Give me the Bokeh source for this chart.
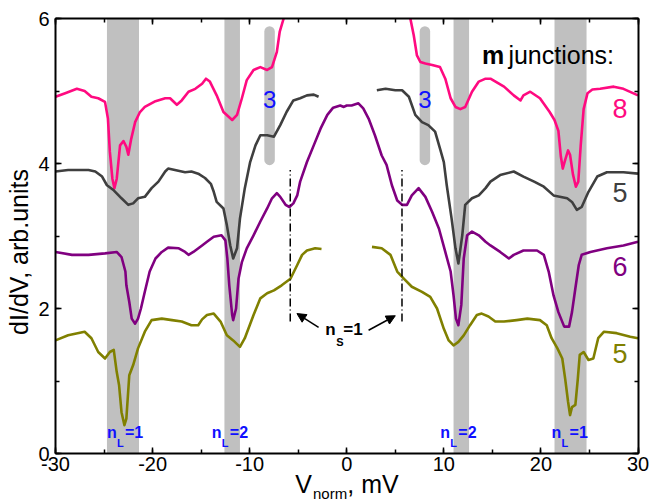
import math
from bokeh.plotting import figure
from bokeh.models import (SingleIntervalTicker, LinearAxis, Arrow, NormalHead,
                          CustomJSTickFormatter, Range1d)
from bokeh.core.properties import value
from bokeh.embed import file_html
from bokeh.resources import INLINE

FONT = "Liberation Sans"

# ---------------- data ----------------
pink_left_x = [-30.0, -29.0, -27.8, -27.0, -26.3, -25.6, -24.9, -24.6, -24.4, -24.14, -23.93, -23.69,
               -23.35, -23.0, -22.7, -22.5, -22.2, -21.8, -21.3, -20.8, -19.7, -18.7, -18.2, -17.5,
               -17.0, -16.3, -15.6, -14.9, -14.5, -14.1, -13.4, -12.7, -11.8, -11.3, -10.8, -10.3,
               -9.6, -8.9, -8.2, -7.7, -7.2, -6.9, -6.5]
pink_left_y = [4.92, 4.97, 5.03, 5.00, 4.92, 4.90, 4.85, 4.62, 4.16, 3.79, 3.66, 3.79,
               4.25, 4.31, 4.23, 4.12, 4.34, 4.57, 4.71, 4.78, 4.86, 4.90, 4.90, 4.81,
               4.87, 4.99, 5.03, 5.10, 5.17, 5.13, 4.94, 4.71, 4.60, 4.67, 4.90, 5.15,
               5.29, 5.33, 5.29, 5.33, 5.54, 5.82, 6.00]
pink_right_x = [6.55, 6.9, 7.23, 7.58, 8.1, 8.8, 9.6, 10.15, 10.7, 11.2, 11.7, 12.2, 12.9,
                13.6, 14.3, 14.8, 16.2, 17.2, 17.9, 18.2, 18.9, 19.9, 20.9, 21.4, 21.8, 22.05,
                22.25, 22.5, 22.8, 23.0, 23.3, 23.6, 23.85, 24.1, 24.4, 24.8, 25.3, 26.1, 27.5,
                28.5, 30.0]
pink_right_y = [6.00, 5.77, 5.49, 5.40, 5.38, 5.36, 5.33, 5.17, 4.90, 4.78, 4.75, 4.78, 4.99,
                5.13, 5.17, 5.17, 5.06, 4.94, 4.87, 4.94, 4.99, 4.90, 4.71, 4.60, 4.45, 4.10,
                3.93, 4.05, 4.18, 4.12, 3.85, 3.68, 3.75, 4.25, 4.75, 4.97, 5.02, 5.03, 5.06,
                5.03, 4.94]

grey_left_x = [-30.0, -28.7, -27.65, -26.6, -25.9, -25.2, -24.7, -24.0, -23.2, -22.5, -22.0, -21.5,
               -20.8, -20.1, -19.4, -18.7, -18.4, -17.7, -16.65, -16.0, -15.3, -14.6, -14.0, -13.7,
               -13.4, -12.7, -12.35, -12.0, -11.7, -11.3, -11.0, -10.5, -9.95, -9.4, -8.9, -8.2,
               -7.5, -6.85, -6.2, -5.5, -4.8, -4.1, -3.4, -2.9]
grey_left_y = [3.89, 3.91, 3.91, 3.91, 3.89, 3.82, 3.70, 3.63, 3.52, 3.43, 3.45, 3.52,
               3.54, 3.66, 3.75, 3.89, 3.93, 3.91, 3.88, 3.89, 3.86, 3.80, 3.72, 3.61,
               3.47, 3.38, 3.15, 2.87, 2.69, 2.83, 3.24, 3.66, 4.02, 4.25, 4.39, 4.39,
               4.37, 4.53, 4.71, 4.87, 4.90, 4.94, 4.95, 4.92]
grey_right_x = [3.1, 4.0, 5.0, 5.7, 6.4, 7.06, 7.75, 8.4, 9.1, 9.6, 10.0, 10.3, 10.8, 11.2, 11.5,
                11.9, 12.2, 12.9, 13.6, 14.3, 14.8, 15.8, 17.2, 18.2, 19.3, 20.3, 21.3, 22.7,
                23.2, 23.7, 24.2, 24.9, 25.8, 26.8, 28.5, 30.0]
grey_right_y = [5.01, 5.03, 5.01, 5.01, 4.92, 4.67, 4.57, 4.53, 4.44, 4.21, 4.02, 3.70, 3.24, 2.83,
                2.62, 3.01, 3.43, 3.52, 3.56, 3.66, 3.75, 3.84, 3.89, 3.82, 3.75, 3.68, 3.56, 3.52,
                3.47, 3.36, 3.40, 3.61, 3.82, 3.88, 3.88, 3.86]

purple_x = [-30.0, -28.3, -26.6, -24.9, -23.7, -23.2, -22.8, -22.7, -22.4, -22.15, -21.8, -21.5,
            -21.2, -20.8, -20.3, -19.7, -19.05, -18.4, -17.3, -16.65, -16.3, -15.8, -14.9, -14.4,
            -13.7, -12.9, -12.5, -12.3, -12.1, -11.8, -11.7, -11.4, -11.15, -10.8, -10.3, -9.6,
            -8.9, -8.2, -7.7, -7.2, -6.85, -6.3, -5.9, -5.5, -5.1, -4.8, -4.1, -3.4, -2.7, -2.0,
            -1.4, -0.67, -0.3, 0.0, 0.5, 1.2, 1.7, 2.25, 2.9, 3.6, 4.1, 4.65, 5.2, 5.7, 6.2, 6.7,
            7.4, 8.1, 8.8, 9.5, 10.15, 10.7, 11.0, 11.25, 11.5, 11.8, 12.05, 12.4, 12.9, 13.6,
            14.3, 14.8, 15.8, 16.7, 17.2, 18.2, 19.6, 20.3, 20.8, 21.3, 21.8, 22.4, 22.9, 23.2,
            23.55, 23.9, 24.2, 25.1, 26.8, 28.5, 30.0]
purple_y = [2.78, 2.74, 2.74, 2.76, 2.78, 2.71, 2.51, 2.32, 2.09, 1.86, 1.79, 1.86,
            2.00, 2.23, 2.51, 2.69, 2.78, 2.84, 2.83, 2.78, 2.74, 2.78, 2.87, 2.92,
            2.99, 3.01, 2.94, 2.69, 2.32, 1.91, 1.84, 2.00, 2.41, 2.64, 2.83, 3.01,
            3.20, 3.38, 3.52, 3.59, 3.54, 3.43, 3.40, 3.45, 3.56, 3.75, 4.02, 4.25, 4.48, 4.67,
            4.77, 4.80, 4.78, 4.80, 4.80, 4.83, 4.76, 4.62, 4.39, 4.11, 3.98, 3.70, 3.49, 3.43, 3.43, 3.56,
            3.66, 3.54, 3.33, 3.10, 2.78, 2.51, 2.18, 1.86, 1.77, 2.05, 2.69, 3.01, 3.06, 3.01,
            2.92, 2.87, 2.78, 2.69, 2.74, 2.80, 2.80, 2.74, 2.51, 2.18, 1.95, 1.75, 1.75, 1.95,
            2.28, 2.60, 2.74, 2.78, 2.83, 2.87, 2.92]

olive_left_x = [-30.0, -28.7, -27.0, -26.3, -25.6, -24.9, -24.4, -24.0, -23.7, -23.45, -23.2, -22.9,
                -22.7, -22.4, -22.0, -21.5, -20.8, -20.1, -19.05, -18.0, -17.0, -16.0, -15.3, -14.9,
                -14.4, -13.7, -13.0, -12.35, -11.7, -11.0, -10.5, -9.6, -8.9, -8.2, -7.5, -6.7,
                -5.8, -5.1, -4.6, -4.1, -3.25, -2.6]
olive_left_y = [1.56, 1.63, 1.68, 1.59, 1.40, 1.31, 1.40, 1.43, 1.13, 0.94, 0.57, 0.39,
                0.48, 1.08, 1.22, 1.45, 1.68, 1.84, 1.86, 1.84, 1.82, 1.77, 1.77, 1.85,
                1.91, 1.93, 1.82, 1.63, 1.56, 1.47, 1.59, 1.91, 2.14, 2.21, 2.25, 2.32,
                2.41, 2.60, 2.74, 2.80, 2.83, 2.82]
olive_right_x = [2.6, 3.6, 4.5, 5.2, 5.9, 6.7, 7.75, 8.6, 9.3, 10.0, 10.5, 11.0, 11.5, 12.05, 12.7,
                 13.4, 13.9, 14.6, 15.3, 16.2, 17.5, 18.6, 19.9, 20.6, 21.1, 21.7, 22.2, 22.5,
                 22.8, 23.0, 23.2, 23.55, 23.8, 24.0, 24.4, 24.9, 25.4, 25.9, 26.5, 27.8, 29.2, 30.0]
olive_right_y = [2.85, 2.83, 2.74, 2.51, 2.41, 2.30, 2.23, 2.16, 2.00, 1.72, 1.56, 1.49, 1.54, 1.63, 1.77,
                 1.91, 1.93, 1.89, 1.82, 1.82, 1.84, 1.86, 1.84, 1.77, 1.59, 1.45, 1.31, 1.03,
                 0.71, 0.53, 0.64, 0.67, 1.03, 1.36, 1.40, 1.29, 1.31, 1.59, 1.68, 1.66, 1.61, 1.59]

# grey resonance bands (n_L = 1, 2) and the narrow "3" bars
band_left = [-24.7, -12.6, 11.0, 21.4]
band_right = [-21.4, -11.0, 12.6, 24.7]
bar3_x = [-7.95, 8.05]
bar3_bottom = [4.05, 4.05]
bar3_top = [5.82, 5.82]

# junction counts
m_labels = ["8", "5", "6", "5"]
m_label_y = [4.76, 3.60, 2.58, 1.38]

nL_x = [-24.7, -13.9, 9.64, 21.1]
nL_text = ["=1", "=2", "=2", "=1"]

X_MIN, X_MAX, Y_MIN, Y_MAX = -30, 30, 0, 6

PINK, GREY, PURPLE, OLIVE = "#ff0a80", "#3f3f3f", "#800080", "#808000"
BLUE = "#1010ff"
BAND = "#c0c0c0"

# ---------------- layout: the frame fills the canvas, axes are pinned ----------------
W, H = 650, 501
FL, FR, FT, FB = 55, 637.5, 18, 453          # pixel box of the data area
sx = (FR - FL) / (X_MAX - X_MIN)
sy = (FB - FT) / (Y_MAX - Y_MIN)
xr = Range1d(X_MIN - FL / sx, X_MAX + (W - FR) / sx)
yr = Range1d(Y_MIN - (H - FB) / sy, Y_MAX + FT / sy)

p = figure(width=W, height=H, x_range=xr, y_range=yr,
           output_backend="svg", toolbar_location=None,
           min_border_left=0, min_border_right=0, min_border_top=0, min_border_bottom=0,
           x_axis_location=None, y_axis_location=None)
p.xgrid.grid_line_color = None
p.ygrid.grid_line_color = None
p.outline_line_color = None
p.background_fill_color = "white"
p.border_fill_color = "white"

def make_axis(interval, loc, bounds, labels):
    ax = LinearAxis(ticker=SingleIntervalTicker(interval=interval, num_minor_ticks=2),
                    fixed_location=loc, bounds=bounds)
    ax.axis_line_width = 2
    ax.axis_line_color = "black"
    ax.major_tick_in = 6
    ax.major_tick_out = 0
    ax.minor_tick_in = 4
    ax.minor_tick_out = 0
    ax.major_tick_line_width = 1.5
    ax.minor_tick_line_width = 1.5
    ax.major_label_text_font = FONT
    ax.major_label_text_color = "black"
    ax.major_label_text_font_size = "20px"
    if labels:
        ax.formatter = CustomJSTickFormatter(code="return tick.toString();")
    else:
        ax.formatter = CustomJSTickFormatter(code="return '';")
        ax.major_label_standoff = 0
    return ax

ax_bottom = make_axis(10, Y_MIN, (X_MIN, X_MAX), True)
ax_bottom.major_label_standoff = 3
ax_top = make_axis(10, Y_MAX, (X_MIN, X_MAX), False)
ax_left = make_axis(2, X_MIN, (Y_MIN, Y_MAX), True)
ax_left.major_label_standoff = 6
ax_right = make_axis(2, X_MAX, (Y_MIN, Y_MAX), False)
p.add_layout(ax_bottom, "below")
p.add_layout(ax_top, "above")
p.add_layout(ax_left, "left")
p.add_layout(ax_right, "right")

# bands
p.quad(left=band_left, right=band_right, bottom=Y_MIN, top=Y_MAX, fill_color=BAND, line_color=None)
p.segment(x0=bar3_x, x1=bar3_x, y0=bar3_bottom, y1=bar3_top, line_color=BAND,
          line_width=10.5, line_cap="round")

# curves
LW = 2.6
for xs, ys, c in [(pink_left_x, pink_left_y, PINK), (pink_right_x, pink_right_y, PINK),
                  (grey_left_x, grey_left_y, GREY), (grey_right_x, grey_right_y, GREY),
                  (purple_x, purple_y, PURPLE),
                  (olive_left_x, olive_left_y, OLIVE), (olive_right_x, olive_right_y, OLIVE)]:
    p.line(xs, ys, line_color=c, line_width=LW, line_join="round")

# text helper (all texts vertically centred on their anchor)
def txt(fig, x, y, t, size, color="black", bold=False, align="left", **kw):
    fig.text(x=x, y=y, text=t, text_font=value(FONT),
             text_font_style="bold" if bold else "normal",
             text_font_size=size, text_align=align, text_baseline="middle",
             text_color=color, **kw)

# n_s = 1 markers
p.segment(x0=[-5.82, 5.69], x1=[-5.82, 5.69], y0=[1.82, 1.82], y1=[3.91, 3.91],
          line_color="black", line_width=1.5, line_dash="8 3 1 3")
for xs_, ys_, xe, ye in [(-2.9, 1.74, -5.13, 1.93), (2.25, 1.70, 5.0, 1.90)]:
    p.add_layout(Arrow(end=NormalHead(size=9, fill_color="black", line_color="black"),
                       x_start=xs_, y_start=ys_, x_end=xe, y_end=ye,
                       line_color="black", line_width=1.5))
txt(p, [-2.22], [1.709], ["n"], "17px", bold=True)
txt(p, [-2.22], [1.709], ["S"], "11px", bold=True, x_offset=11, y_offset=12)
txt(p, [-2.22], [1.709], ["=1"], "17px", bold=True, x_offset=18)

# n_L labels
nl_y = [0.283] * len(nL_x)
txt(p, nL_x, nl_y, ["n"] * len(nL_x), "16px", BLUE, bold=True)
txt(p, nL_x, nl_y, ["L"] * len(nL_x), "11px", BLUE, bold=True, x_offset=10, y_offset=10.4)
txt(p, nL_x, nl_y, nL_text, "16px", BLUE, bold=True, x_offset=18)

# "3" labels
txt(p, bar3_x, [4.876, 4.876], ["3", "3"], "24px", BLUE, align="center")

# m junctions
txt(p, [13.94], [5.495], ["m"], "25px", bold=True)
txt(p, [16.65], [5.495], ["junctions:"], "25px")
txt(p, [28.14] * 4, m_label_y, m_labels, "27px", [PINK, GREY, PURPLE, OLIVE], align="center")

# axis titles
txt(p, [-33.71], [2.78], ["dI/dV, arb.units"], "25px", align="center", angle=math.pi / 2)
txt(p, [-5.31], [-0.414], ["V"], "25px")
txt(p, [-3.48], [-0.553], ["norm"], "15px")
txt(p, [0.05], [-0.414], [", mV"], "25px")

open("out.html", "w").write(file_html(p, INLINE))
